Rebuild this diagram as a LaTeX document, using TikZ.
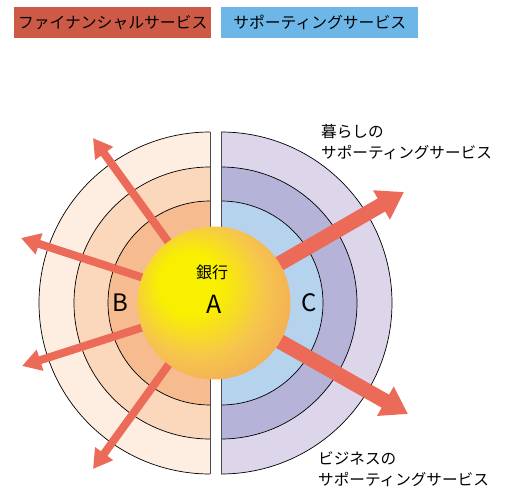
\documentclass[tikz,border=0pt]{standalone}
\usepackage{fontspec}
\setmainfont{Noto Sans CJK JP}
\usetikzlibrary{arrows.meta}
\definecolor{hdrred}{HTML}{CC5A47}
\definecolor{hdrblue}{HTML}{6CB7E8}
\definecolor{lo}{HTML}{FEEEE1}
\definecolor{lm}{HTML}{FBD7BB}
\definecolor{li}{HTML}{F6BC8F}
\definecolor{ro}{HTML}{DDD5EA}
\definecolor{rm}{HTML}{B5B4D8}
\definecolor{ri}{HTML}{B6D3EE}
\definecolor{arr}{HTML}{EB6A58}
\definecolor{sunin}{HTML}{F8F000}
\definecolor{sunmid}{HTML}{F6C64C}
\definecolor{sunout}{HTML}{F1A05E}
\pgfdeclareradialshading{sunshade}{\pgfpoint{-10bp}{8bp}}{color(0bp)=(sunin); color(10bp)=(sunin); color(22bp)=(sunmid); color(36bp)=(sunout); color(50bp)=(sunout)}
\tikzset{
  ring/.style={draw=black, line width=0.7pt},
  hdr/.style={minimum width=197pt, minimum height=31pt, inner sep=0pt, font=\fontsize{15.8}{18}\selectfont},
  thinarrow/.style={draw=arr, line width=8pt, -{Triangle[width=21pt,length=19pt]}},
  fatarrow/.style={draw=arr, line width=15pt, -{Triangle[width=32pt,length=26pt]}},
  lbl/.style={align=left, inner sep=0pt, font=\fontsize{15.6}{21}\selectfont, anchor=west},
}
\begin{document}
\begin{tikzpicture}[x=1pt,y=-1pt]
\useasboundingbox (0,0) rectangle (507,487);
% header boxes
\node[hdr, fill=hdrred, anchor=north west] (fin) at (14,7) {ファイナンシャルサービス};
\node[hdr, fill=hdrblue, anchor=north west] (sup) at (221,7) {サポーティングサービス};
% left half rings
\begin{scope}
  \clip (0,100) rectangle (210,487);
  \fill[lo] (210,303) circle (171);
  \fill[lm] (210,303) circle (136);
  \fill[li] (210,303) circle (102);
  \draw[ring] (210,303) circle (171);
  \draw[ring] (210,303) circle (136);
  \draw[ring] (210,303) circle (102);
\end{scope}
\draw[ring, draw=black!70] (210,132) -- (210,474);
% right half rings
\begin{scope}
  \clip (221,100) rectangle (507,487);
  \fill[ro] (221,303) circle (171);
  \fill[rm] (221,303) circle (136);
  \fill[ri] (221,303) circle (102);
  \draw[ring] (221,303) circle (171);
  \draw[ring] (221,303) circle (136);
  \draw[ring] (221,303) circle (102);
\end{scope}
\draw[ring, draw=black!70] (221,132) -- (221,474);
% arrow coordinates
\coordinate (s1) at (172,247); \coordinate (e1) at (93,138);
\coordinate (s2) at (150,280); \coordinate (e2) at (21,238);
\coordinate (s3) at (150,325); \coordinate (e3) at (22,366);
\coordinate (s4) at (172,360); \coordinate (e4) at (93,469);
\coordinate (s5) at (265,272); \coordinate (e5) at (404,192);
\coordinate (s6) at (265,333); \coordinate (e6) at (408,414);
\draw[thinarrow] (s1) -- (e1);
\draw[thinarrow] (s2) -- (e2);
\draw[thinarrow] (s3) -- (e3);
\draw[thinarrow] (s4) -- (e4);
\draw[fatarrow] (s5) -- (e5);
\draw[fatarrow] (s6) -- (e6);
% sun
\node[circle, minimum size=153pt, inner sep=0pt, shading=sunshade] (sun) at (214,303) {};
\node[font=\fontsize{16}{16}\selectfont, inner sep=0pt] (bank) at (212,272) {銀行};
\node[font=\fontsize{25}{25}\selectfont, inner sep=0pt] (A) at (214,304) {A};
\node[font=\fontsize{24}{24}\selectfont, inner sep=0pt] (B) at (120,303) {B};
\node[font=\fontsize{24}{24}\selectfont, inner sep=0pt] (C) at (309,303) {C};
% labels
\node[lbl] (life) at (321,142) {暮らしの\\サポーティングサービス};
\node[lbl] (biz) at (318,469) {ビジネスの\\サポーティングサービス};
\end{tikzpicture}
\end{document}
